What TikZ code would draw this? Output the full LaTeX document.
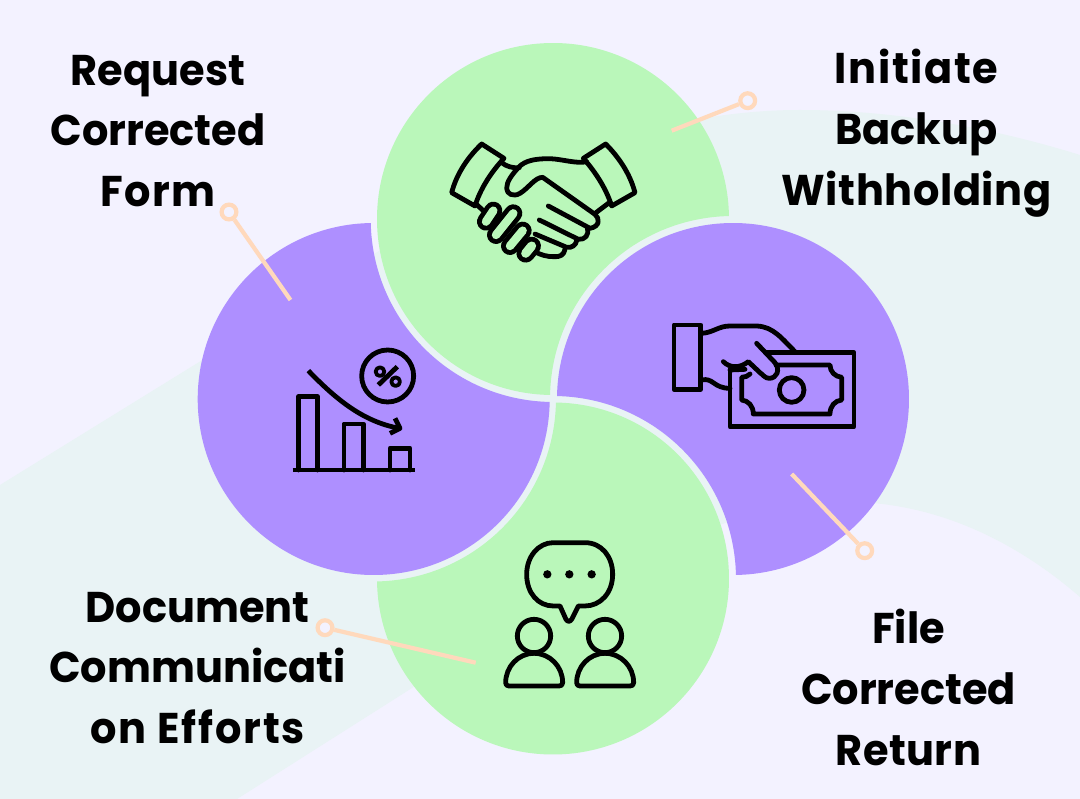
\documentclass[tikz,border=0pt]{standalone}
\usepackage{fontspec}
\setmainfont{Poppins}[FakeStretch=0.965]
\definecolor{bglav}{HTML}{F3F2FF}
\definecolor{bgteal}{HTML}{E9F3F5}
\definecolor{petalgreen}{HTML}{BAF7BA}
\definecolor{petalpurple}{HTML}{AE8FFF}
\definecolor{leader}{HTML}{FFD9BC}
\newcommand{\petal}[3]{% centre x, y, rotation step
  ({#1+176*cos(-0.96+#3)},{#2+176*sin(-0.96+#3)}) arc[start angle={-0.96+#3},end angle={-269.04+#3},radius=176]
  arc[start angle={181.26+#3},end angle={268.74+#3},radius=183] -- cycle}
\newcommand{\spaced}[2]{{\addfontfeature{LetterSpace=#1}#2}}
\tikzset{
  lbl/.style={font=\fontsize{43}{60.7}\selectfont\bfseries,align=center,text=black,inner sep=0pt},
  lead/.style={draw=leader,line width=4.2pt},
  pin/.style={circle,draw=leader,fill=bglav,line width=4.2pt,minimum size=14.8pt,inner sep=0pt},
  ic/.style={draw=black,line width=4.8pt,line join=round,line cap=round},
  capo/.style={draw=black,line width=#1pt,line cap=round},
  capi/.style={draw=petalgreen,line width=#1pt,line cap=round}
}
\begin{document}
\begin{tikzpicture}[x=1pt,y=-1pt]
\useasboundingbox (0,0) rectangle (1080,799);
\fill[bglav] (0,0) rectangle (1080,799);
% background band
\fill[bgteal] (0,485) -- (400,238) .. controls (520,165) and (660,110) .. (800,110)
  .. controls (900,110) and (1000,130) .. (1080,155) -- (1080,597)
  .. controls (1020,545) and (950,510) .. (873,503)
  .. controls (770,490) and (620,550) .. (412,688) -- (237,799) -- (0,799) -- cycle;
% petals
\fill[petalgreen] \petal{553}{219}{0};
\fill[petalpurple] \petal{733}{399}{90};
\fill[petalgreen] \petal{553}{578.5}{180};
\fill[petalpurple] \petal{373.7}{399}{270};
% leaders
\node[pin] (pinTR) at (747.7,100.7) {};
\node[pin] (pinBR) at (864.7,550.7) {};
\node[pin] (pinBL) at (325,627.7) {};
\node[pin] (pinTL) at (229,212) {};
\coordinate (endTR) at (671.7,130.7);
\coordinate (endBR) at (791.7,474);
\coordinate (endBL) at (475.7,662.7);
\coordinate (endTL) at (290.5,300);
\draw[lead] (pinTR) -- (endTR);
\draw[lead] (pinBR) -- (endBR);
\draw[lead] (pinBL) -- (endBL);
\draw[lead] (pinTL) -- (endTL);
% labels
\node[lbl] (tl) at (158,131) {Request\\Corrected\\\spaced{2.5}{Form}};
\node[lbl] (tr) at (916.5,133) {\spaced{3.8}{Initiate}\\Backup\\\spaced{1.3}{Withholding}};
\node[lbl] (bl) at (197.5,668) {Document\\Communicati\\\spaced{4.4}{on Efforts}};
\node[lbl] (br) at (908.5,687.5) {File\\Corrected\\\spaced{1}{Return}};
% handshake
\begin{scope}[shift={(430,120)},x=0.3333pt,y=-0.3333pt]
\draw[ic] (155,72) -- (222,115) .. controls (180,160) and (150,210) .. (135,258) -- (65,218) .. controls (80,160) and (115,110) .. (155,72);
\draw[ic] (527,72) -- (460,115) .. controls (500,160) and (530,210) .. (545,258) -- (615,218) .. controls (600,160) and (565,110) .. (527,72);
\draw[ic] (215,128) .. controls (230,140) and (250,145) .. (268,143);
\draw[ic] (470,125) .. controls (440,132) and (400,118) .. (360,116) .. controls (320,116) and (285,120) .. (265,143)
  .. controls (245,165) and (230,185) .. (230,205) .. controls (230,222) and (250,232) .. (270,220)
  .. controls (295,205) and (315,172) .. (338,172) -- (495,283) .. controls (510,295) and (510,320) .. (480,325) -- (355,258);
\draw[ic] (472,325) .. controls (478,345) and (465,360) .. (445,358) -- (328,300);
\draw[ic] (440,362) .. controls (438,375) and (425,385) .. (410,382) -- (315,342);
\draw[ic] (405,388) .. controls (402,405) and (390,412) .. (370,410) .. controls (350,410) and (335,405) .. (320,398);
\draw[ic] (498,278) -- (535,250);
\draw[ic] (138,252) -- (160,272);
\draw[capo=18.5] (305,378) -- (287,400); \draw[capi=9] (305,378) -- (287,400);
\draw[capo=18] (278,332) -- (240,378); \draw[capi=8.4] (278,332) -- (240,378);
\draw[capo=18] (250,280) -- (198,345); \draw[capi=8.4] (250,280) -- (198,345);
\draw[capo=18] (190,272) -- (168,305); \draw[capi=8.4] (190,272) -- (168,305);
\end{scope}
% cash
\begin{scope}[shift={(650,300)},x=0.3333pt,y=-0.3333pt]
\draw[ic] (72,75) rectangle (152,268);
\draw[ic] (155,100) .. controls (190,98) and (205,78) .. (240,78) -- (320,78) .. controls (370,80) and (395,115) .. (435,155);
\draw[ic] (155,240) .. controls (190,232) and (190,265) .. (240,265);
\draw[ic] (350,158) -- (612,158) -- (612,380) -- (240,380) -- (240,208);
\draw[ic] (378,195) -- (540,195) .. controls (540,215) and (555,230) .. (575,232) -- (575,300)
  .. controls (555,302) and (540,318) .. (540,342) -- (310,342) .. controls (310,318) and (295,302) .. (275,300) -- (275,232) .. controls (285,232) and (295,228) .. (300,222);
\draw[ic] (320,130) -- (375,188) .. controls (392,210) and (380,235) .. (358,235) .. controls (345,235) and (340,225) .. (330,218) -- (295,185) .. controls (270,205) and (240,205) .. (220,185);
\draw[ic] (240,210) -- (285,208);
\draw[ic] (425,270) circle[radius=37];
\end{scope}
% chart
\begin{scope}[shift={(280,340)},x=0.3333pt,y=-0.3333pt]
\draw[ic,line cap=butt] (38,390) -- (405,390);
\draw[ic] (55,390) -- (55,170) -- (113,170) -- (113,390);
\draw[ic] (192,390) -- (192,252) -- (250,252) -- (250,390);
\draw[ic] (330,390) -- (330,325) -- (390,325) -- (390,390);
\draw[ic] (323,108) circle[radius=78];
\draw[ic,line cap=butt] (295,135) -- (352,80);
\draw[ic,line width=3.8pt] (300,95) circle[radius=13];
\draw[ic,line width=3.8pt] (347,125) circle[radius=13];
\draw[ic,line cap=butt] (85,92) .. controls (170,180) and (250,245) .. (358,265);
\draw[ic,line cap=butt] (345,235) -- (360,265) -- (330,280);
\end{scope}
% people
\begin{scope}[shift={(490,530)},x=0.3333pt,y=-0.3333pt]
\draw[ic] (190,38) -- (285,38) .. controls (335,38) and (368,80) .. (368,133) .. controls (368,190) and (330,228) .. (285,228) -- (265,228) -- (245,268) .. controls (240,276) and (233,276) .. (228,268) -- (210,228) -- (190,228) .. controls (145,228) and (110,190) .. (110,133) .. controls (110,80) and (145,38) .. (190,38) -- cycle;
\fill (172,133) circle[radius=12.5];
\fill (238,133) circle[radius=12.5];
\fill (305,133) circle[radius=12.5];
\draw[ic] (132,318) circle[radius=50];
\draw[ic] (345,318) circle[radius=50];
\draw[ic] (132,370) .. controls (85,370) and (47,410) .. (47,458) .. controls (47,465) and (50,468) .. (57,468) -- (207,468) .. controls (214,468) and (218,465) .. (218,458) .. controls (218,410) and (180,370) .. (132,370) -- cycle;
\draw[ic] (345,370) .. controls (298,370) and (260,410) .. (260,458) .. controls (260,465) and (263,468) .. (270,468) -- (420,468) .. controls (427,468) and (431,465) .. (431,458) .. controls (431,410) and (393,370) .. (345,370) -- cycle;
\end{scope}
\end{tikzpicture}
\end{document}
